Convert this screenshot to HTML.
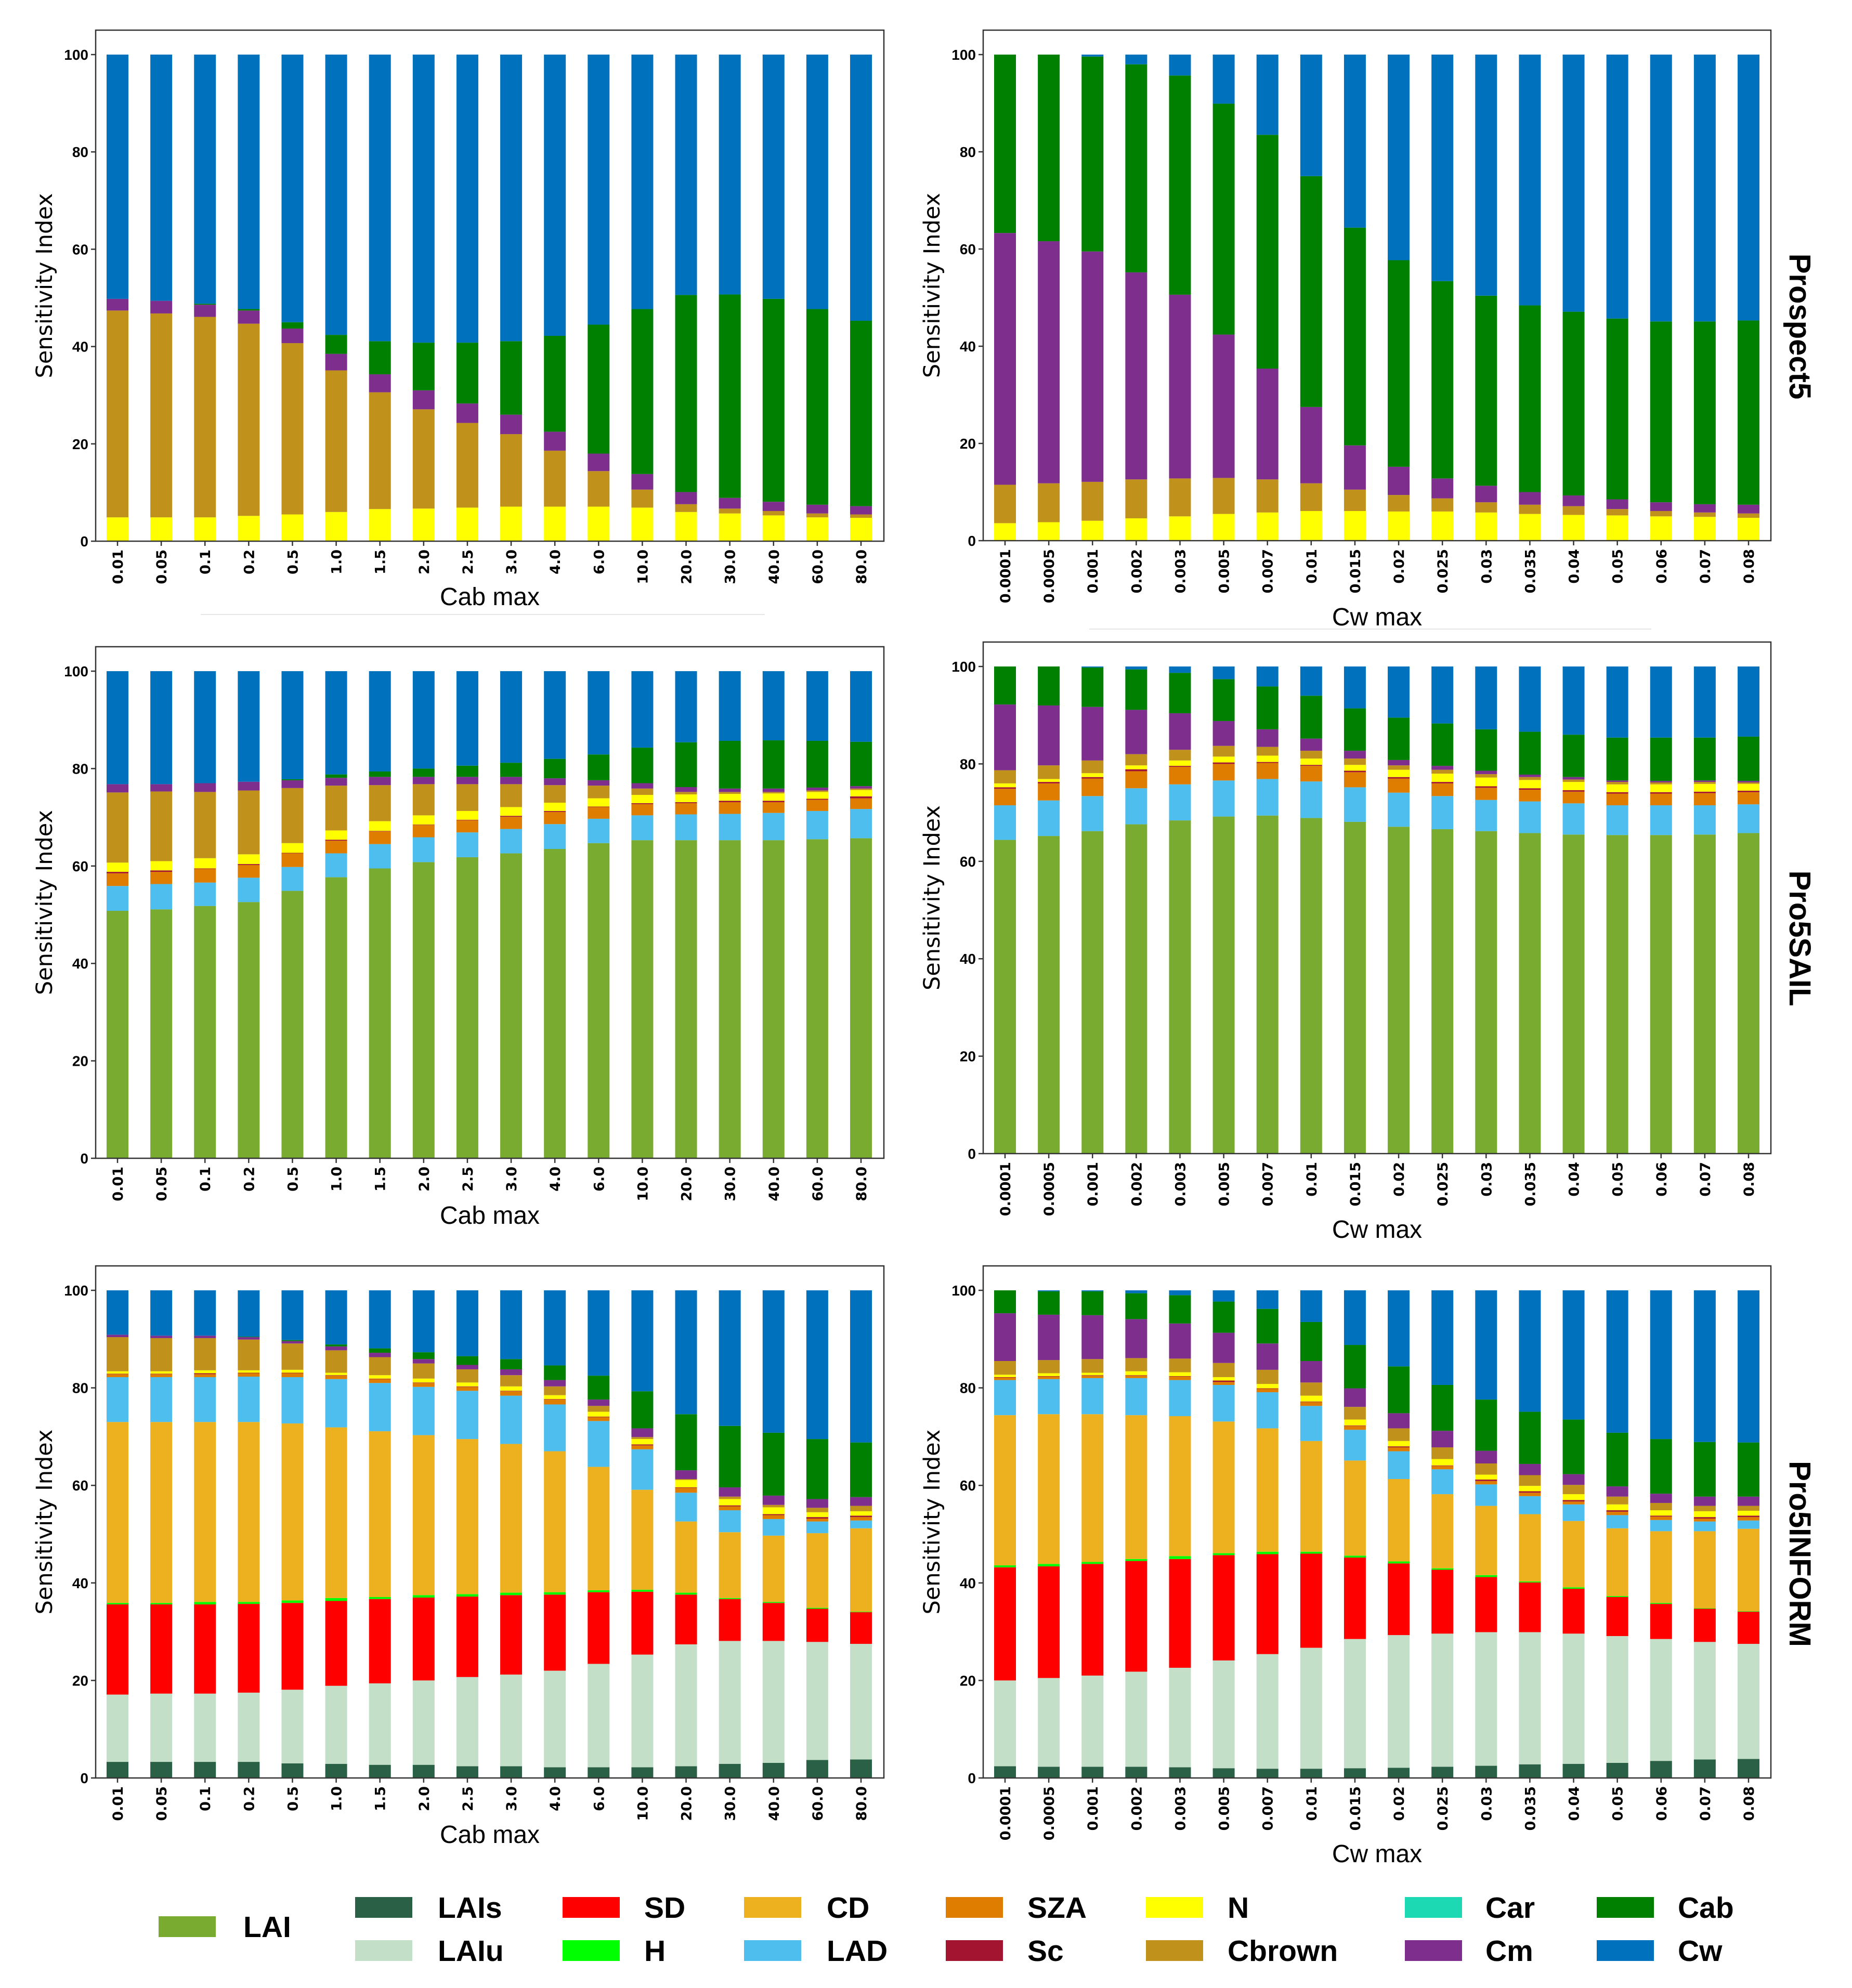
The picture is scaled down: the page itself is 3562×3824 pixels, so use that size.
<!DOCTYPE html>
<html><head><meta charset="utf-8">
<style>
html,body{margin:0;padding:0;background:#fff;}
svg{display:block;}
</style></head>
<body>
<svg id="fig" xmlns="http://www.w3.org/2000/svg" width="3562" height="3824" viewBox="0 0 3562 3824">
<rect x="0" y="0" width="3562" height="3824" fill="#fff"/>
</svg>
<script>
// ---------- categories ----------
const cabCats = ["0.01","0.05","0.1","0.2","0.5","1.0","1.5","2.0","2.5","3.0","4.0","6.0","10.0","20.0","30.0","40.0","60.0","80.0"];
const cwCats = ["0.0001","0.0005","0.001","0.002","0.003","0.005","0.007","0.01","0.015","0.02","0.025","0.03","0.035","0.04","0.05","0.06","0.07","0.08"];
const yTicks = [0,20,40,60,80,100];

// ---------- Prospect5 / Cab (cumulative tops, %) ----------
const p5cab_N      = [4.9,4.9,4.9,5.2,5.5,6.0,6.6,6.7,6.9,7.1,7.1,7.1,6.9,6.0,5.7,5.3,4.9,4.8];
const p5cab_Cbrown = [47.4,46.8,46.1,44.7,40.7,35.1,30.6,27.1,24.3,22.0,18.6,14.4,10.6,7.6,6.7,6.2,5.7,5.5];
const p5cab_Cm     = [49.8,49.4,48.6,47.4,43.7,38.5,34.3,31.0,28.3,26.0,22.5,18.0,13.8,10.1,8.9,8.1,7.5,7.2];
const p5cab_Cab    = [49.8,49.4,48.8,47.7,45.0,42.4,41.1,40.8,40.8,41.1,42.2,44.5,47.7,50.6,50.7,49.8,47.7,45.3];

// ---------- Prospect5 / Cw ----------
const p5cw_N      = [3.6,3.8,4.1,4.6,5.0,5.5,5.8,6.1,6.1,6.0,6.0,5.8,5.5,5.3,5.2,5.0,4.9,4.7];
const p5cw_Cbrown = [11.5,11.8,12.1,12.6,12.8,12.9,12.6,11.8,10.5,9.4,8.7,7.9,7.4,7.1,6.5,6.1,5.8,5.6];
const p5cw_Cm     = [63.3,61.6,59.5,55.2,50.6,42.4,35.4,27.5,19.6,15.2,12.8,11.3,10.0,9.3,8.5,7.9,7.5,7.4];
const p5cw_Cab    = [100,100,99.6,98.0,95.7,89.9,83.5,75.0,64.4,57.7,53.4,50.4,48.4,47.1,45.7,45.1,45.1,45.3];

// ---------- Pro5SAIL / Cab ----------
const sailcab_LAI    = [50.8,51.1,51.8,52.6,54.9,57.7,59.5,60.8,61.8,62.6,63.5,64.7,65.3,65.3,65.3,65.3,65.5,65.7];
const sailcab_LAD    = [55.9,56.3,56.6,57.6,59.8,62.6,64.5,65.9,66.9,67.6,68.6,69.7,70.4,70.6,70.7,70.9,71.3,71.7];
const sailcab_SZA    = [58.5,58.8,59.4,60.2,62.6,65.2,67.1,68.4,69.4,70.1,71.1,72.1,72.7,72.9,73.1,73.1,73.6,73.9];
const sailcab_Sc     = [58.8,59.1,59.5,60.4,62.7,65.4,67.2,68.5,69.5,70.3,71.3,72.2,72.9,73.1,73.4,73.4,73.8,74.3];
const sailcab_N      = [60.7,61.0,61.6,62.4,64.7,67.3,69.2,70.4,71.3,72.1,73.0,73.9,74.6,74.7,74.8,74.9,75.2,75.6];
const sailcab_Cbrown = [75.1,75.3,75.2,75.5,76.0,76.5,76.6,76.8,76.8,76.8,76.6,76.5,75.9,75.2,75.2,75.2,75.5,75.9];
const sailcab_Cm     = [76.8,76.8,77.0,77.3,77.6,78.1,78.3,78.3,78.3,78.3,78.0,77.6,77.0,76.2,75.9,75.9,76.1,76.4];
const sailcab_Cab    = [76.8,76.8,77.0,77.3,77.8,78.8,79.4,80.0,80.6,81.2,82.0,82.9,84.3,85.4,85.7,85.8,85.7,85.5];

// ---------- Pro5SAIL / Cw ----------
const sailcw_LAI    = [64.4,65.2,66.2,67.6,68.4,69.2,69.4,68.9,68.1,67.1,66.6,66.2,65.8,65.5,65.4,65.4,65.5,65.8];
const sailcw_LAD    = [71.5,72.5,73.4,75.0,75.8,76.6,76.9,76.4,75.2,74.1,73.4,72.6,72.3,71.9,71.5,71.5,71.5,71.7];
const sailcw_SZA    = [74.9,76.0,77.0,78.5,79.4,80.0,80.2,79.6,78.3,77.0,76.0,75.1,74.7,74.3,73.9,73.9,74.0,74.2];
const sailcw_Sc     = [75.2,76.3,77.3,78.9,79.6,80.3,80.4,79.8,78.6,77.3,76.3,75.4,75.0,74.6,74.2,74.2,74.3,74.5];
const sailcw_N      = [76.0,76.9,78.1,79.7,80.7,81.5,81.7,81.1,79.8,78.8,78.0,77.2,76.7,76.3,75.8,75.8,75.9,75.9];
const sailcw_Cbrown = [78.7,79.7,80.7,82.0,82.9,83.7,83.5,82.7,81.1,79.7,78.8,77.9,77.3,76.8,76.3,76.2,76.3,76.2];
const sailcw_Cm     = [92.2,92.0,91.7,91.1,90.4,88.8,87.1,85.2,82.7,80.8,79.6,78.6,77.8,77.3,76.6,76.5,76.6,76.5];
const sailcw_Cab    = [100,100,99.8,99.4,98.7,97.4,95.9,94.0,91.4,89.5,88.3,87.1,86.6,86.0,85.4,85.4,85.4,85.6];

// ---------- Pro5INFORM / Cab ----------
const infcab_LAIs   = [3.3,3.3,3.3,3.3,3.0,2.9,2.7,2.7,2.4,2.4,2.2,2.2,2.2,2.4,2.9,3.1,3.7,3.8];
const infcab_LAIu   = [17.1,17.3,17.3,17.5,18.1,18.9,19.4,20.0,20.7,21.2,22.0,23.4,25.3,27.4,28.1,28.1,27.9,27.5];
const infcab_SD     = [35.6,35.6,35.6,35.7,35.9,36.3,36.7,37.0,37.2,37.5,37.6,38.1,38.2,37.6,36.7,35.9,34.7,34.0];
const infcab_H      = [35.9,35.9,36.1,36.1,36.4,36.9,37.1,37.5,37.7,38.0,38.1,38.5,38.6,38.0,36.9,36.1,34.9,34.1];
const infcab_CD     = [73.0,73.0,73.0,73.0,72.7,71.9,71.1,70.3,69.5,68.5,67.0,63.8,59.1,52.6,50.4,49.7,50.2,51.2];
const infcab_LAD    = [82.2,82.2,82.2,82.3,82.2,81.8,81.0,80.2,79.4,78.4,76.6,73.2,67.4,58.5,54.9,53.1,52.6,52.8];
const infcab_SZA    = [82.8,82.8,82.8,83.0,83.0,82.5,81.8,81.0,80.2,79.3,77.6,74.0,68.2,59.5,55.7,53.9,53.2,53.5];
const infcab_Sc     = [82.9,82.9,83.0,83.1,83.1,82.6,81.9,81.1,80.3,79.4,77.7,74.1,68.4,59.6,55.9,54.1,53.5,53.8];
const infcab_N      = [83.4,83.4,83.6,83.6,83.7,83.1,82.6,81.9,81.1,80.3,78.5,75.1,69.5,61.1,57.2,55.5,54.5,54.7];
const infcab_Cbrown = [90.4,90.2,90.2,89.9,89.1,87.7,86.3,85.0,83.8,82.6,80.3,76.3,69.9,61.3,57.7,56.0,55.4,55.8];
const infcab_Cm     = [90.9,90.7,90.7,90.4,89.6,88.5,87.2,85.9,84.7,83.8,81.6,77.6,71.7,63.1,59.6,57.9,57.2,57.6];
const infcab_Cab    = [90.9,90.7,90.7,90.5,89.8,88.9,88.1,87.3,86.5,85.9,84.6,82.5,79.3,74.6,72.2,70.8,69.5,68.8];

// ---------- Pro5INFORM / Cw ----------
const infcw_LAIs   = [2.4,2.3,2.3,2.3,2.2,2.0,1.9,1.9,2.0,2.1,2.3,2.5,2.8,2.9,3.1,3.5,3.8,3.9];
const infcw_LAIu   = [20.0,20.5,21.0,21.8,22.6,24.1,25.4,26.7,28.5,29.3,29.6,29.9,29.9,29.6,29.1,28.5,27.9,27.5];
const infcw_SD     = [43.2,43.4,43.9,44.5,44.9,45.7,45.9,46.0,45.2,44.0,42.7,41.2,40.1,38.8,37.1,35.7,34.7,34.1];
const infcw_H      = [43.6,43.9,44.3,44.9,45.5,46.1,46.4,46.4,45.6,44.4,43.0,41.6,40.3,39.1,37.3,35.9,34.8,34.2];
const infcw_CD     = [74.4,74.6,74.6,74.4,74.2,73.1,71.7,69.1,65.1,61.3,58.2,55.8,54.1,52.7,51.2,50.6,50.6,51.1];
const infcw_LAD    = [81.6,81.8,82.0,82.0,81.6,80.6,79.1,76.3,71.4,67.0,63.3,60.2,57.8,56.1,53.9,52.9,52.6,52.8];
const infcw_SZA    = [82.1,82.3,82.5,82.5,82.3,81.2,79.8,77.1,72.2,67.8,64.0,60.9,58.5,56.7,54.6,53.6,53.2,53.5];
const infcw_Sc     = [82.2,82.4,82.6,82.6,82.4,81.5,79.9,77.2,72.3,68.0,64.1,61.2,58.8,57.0,54.9,53.8,53.5,53.8];
const infcw_N      = [82.7,83.0,83.1,83.4,83.2,82.2,80.8,78.4,73.5,69.1,65.4,62.2,59.9,58.2,56.1,54.9,54.7,54.8];
const infcw_Cbrown = [85.5,85.7,85.9,86.1,86.0,85.1,83.7,81.1,76.1,71.7,67.8,64.5,62.1,60.1,57.7,56.4,55.8,55.8];
const infcw_Cm     = [95.3,95.0,94.9,94.1,93.2,91.3,89.1,85.5,79.9,74.8,71.2,67.1,64.4,62.3,59.8,58.3,57.7,57.7];
const infcw_Cab    = [100,99.8,99.8,99.4,99.0,97.7,96.2,93.5,88.8,84.4,80.6,77.6,75.1,73.5,70.8,69.5,68.9,68.8];

const legendNames = ["LAI","LAIs","SD","CD","SZA","N","Car","Cab","LAIu","H","LAD","Sc","Cbrown","Cm","Cw"];
</script>
<script>
const NS = "http://www.w3.org/2000/svg";
const svg = document.getElementById('fig');
const COL = {LAI:"#78ab30",LAIs:"#2a6045",LAIu:"#c3dfc7",SD:"#ff0000",H:"#00ff00",CD:"#edb120",LAD:"#4dbeee",SZA:"#de7d00",Sc:"#a2142f",N:"#ffff00",Cbrown:"#c0921c",Car:"#1cd9b3",Cm:"#7e2f8e",Cab:"#008000",Cw:"#0072bd"};
function mk(tag, attrs, parent){
  const e = document.createElementNS(NS, tag);
  for (const k in attrs) e.setAttribute(k, attrs[k]);
  (parent||svg).appendChild(e);
  return e;
}
function full100(n){ return new Array(n).fill(100); }

function panel(cfg){
  const g = mk('g', {});
  
  
  const n = cfg.cats.length;
  const step = (cfg.lastX - cfg.firstX)/(n-1);
  const xs = i => cfg.firstX + i*step;
  const ys = v => cfg.y0 - v*(cfg.y0 - cfg.y100)/100;
  const bw = 42;
  for (let i=0;i<n;i++){
    let prev = 0;
    cfg.series.forEach(s=>{
      const top = s.tops[i];
      const a = Math.max(prev, 0), b = Math.max(top, prev);
      if (b - a > 0.001){
        const r = mk('rect', {x: xs(i)-bw/2, y: ys(b), width: bw, height: ys(a)-ys(b), fill: COL[s.key]}, g);
        
        
      }
      prev = b;
    });
  }
  const fr = mk('rect', {x: cfg.fx0, y: cfg.top, width: cfg.fx1-cfg.fx0, height: cfg.y0-cfg.top, fill:'none', stroke:'#333', 'stroke-width':2.5}, g);
  
  
  yTicks.forEach(t=>{
    mk('line', {x1: cfg.fx0-9, x2: cfg.fx0, y1: ys(t), y2: ys(t), stroke:'#333','stroke-width':2.5}, g);
    const tx = mk('text', {x: cfg.fx0-14, y: ys(t)+10, 'text-anchor':'end', 'font-family':'Liberation Sans, sans-serif', 'font-weight':'bold', 'font-size':28, fill:'#000'}, g);
    tx.textContent = t;
    
    
  });
  cfg.cats.forEach((c,i)=>{
    mk('line', {x1: xs(i), x2: xs(i), y1: cfg.y0, y2: cfg.y0+9, stroke:'#333','stroke-width':2.5}, g);
    const tx = mk('text', {x:0, y:0, transform:`translate(${xs(i)+10},${cfg.y0+16}) rotate(-90)`, 'text-anchor':'end', 'font-family':'DejaVu Sans, sans-serif', 'font-weight':'bold', 'font-size':27, fill:'#000'}, g);
    tx.textContent = c;
    
    
  });
  const xt = mk('text', {x:(cfg.fx0+cfg.fx1)/2, y: cfg.xlabY+17, 'text-anchor':'middle', 'font-family':'Liberation Sans, sans-serif', 'font-size':48, fill:'#000'}, g);
  xt.textContent = cfg.xlabel;
  
  
  const yt = mk('text', {x:0, y:0, transform:`translate(${cfg.fx0-84},${(cfg.top+cfg.y0)/2}) rotate(-90)`, 'text-anchor':'middle', 'font-family':'DejaVu Sans, sans-serif', 'font-size':43, fill:'#000'}, g);
  yt.textContent = 'Sensitivity Index';
  
  
}

const L = {fx0:184, fx1:1700, firstX:226, lastX:1656};
const R = {fx0:1891, fx1:3406, firstX:1933, lastX:3363};

panel(Object.assign({name:'prospect5-cab-panel', cats:cabCats, top:58, y100:105, y0:1041, xlabel:'Cab max', xlabY:1147,
  series:[{key:'N',tops:p5cab_N},{key:'Cbrown',tops:p5cab_Cbrown},{key:'Cm',tops:p5cab_Cm},{key:'Cab',tops:p5cab_Cab},{key:'Cw',tops:full100(18)}]}, L));
panel(Object.assign({name:'prospect5-cw-panel', cats:cwCats, top:58, y100:105, y0:1040, xlabel:'Cw max', xlabY:1186,
  series:[{key:'N',tops:p5cw_N},{key:'Cbrown',tops:p5cw_Cbrown},{key:'Cm',tops:p5cw_Cm},{key:'Cab',tops:p5cw_Cab},{key:'Cw',tops:full100(18)}]}, R));
panel(Object.assign({name:'pro5sail-cab-panel', cats:cabCats, top:1244, y100:1291, y0:2228, xlabel:'Cab max', xlabY:2337,
  series:[{key:'LAI',tops:sailcab_LAI},{key:'LAD',tops:sailcab_LAD},{key:'SZA',tops:sailcab_SZA},{key:'Sc',tops:sailcab_Sc},{key:'N',tops:sailcab_N},{key:'Cbrown',tops:sailcab_Cbrown},{key:'Cm',tops:sailcab_Cm},{key:'Cab',tops:sailcab_Cab},{key:'Cw',tops:full100(18)}]}, L));
panel(Object.assign({name:'pro5sail-cw-panel', cats:cwCats, top:1235, y100:1282, y0:2219, xlabel:'Cw max', xlabY:2364,
  series:[{key:'LAI',tops:sailcw_LAI},{key:'LAD',tops:sailcw_LAD},{key:'SZA',tops:sailcw_SZA},{key:'Sc',tops:sailcw_Sc},{key:'N',tops:sailcw_N},{key:'Cbrown',tops:sailcw_Cbrown},{key:'Cm',tops:sailcw_Cm},{key:'Cab',tops:sailcw_Cab},{key:'Cw',tops:full100(18)}]}, R));
panel(Object.assign({name:'pro5inform-cab-panel', cats:cabCats, top:2435, y100:2482, y0:3420, xlabel:'Cab max', xlabY:3528,
  series:[{key:'LAIs',tops:infcab_LAIs},{key:'LAIu',tops:infcab_LAIu},{key:'SD',tops:infcab_SD},{key:'H',tops:infcab_H},{key:'CD',tops:infcab_CD},{key:'LAD',tops:infcab_LAD},{key:'SZA',tops:infcab_SZA},{key:'Sc',tops:infcab_Sc},{key:'N',tops:infcab_N},{key:'Cbrown',tops:infcab_Cbrown},{key:'Cm',tops:infcab_Cm},{key:'Cab',tops:infcab_Cab},{key:'Cw',tops:full100(18)}]}, L));
panel(Object.assign({name:'pro5inform-cw-panel', cats:cwCats, top:2435, y100:2482, y0:3420, xlabel:'Cw max', xlabY:3565,
  series:[{key:'LAIs',tops:infcw_LAIs},{key:'LAIu',tops:infcw_LAIu},{key:'SD',tops:infcw_SD},{key:'H',tops:infcw_H},{key:'CD',tops:infcw_CD},{key:'LAD',tops:infcw_LAD},{key:'SZA',tops:infcw_SZA},{key:'Sc',tops:infcw_Sc},{key:'N',tops:infcw_N},{key:'Cbrown',tops:infcw_Cbrown},{key:'Cm',tops:infcw_Cm},{key:'Cab',tops:infcw_Cab},{key:'Cw',tops:full100(18)}]}, R));

mk('line',{x1:386,x2:1471,y1:1182,y2:1182,stroke:'#e6e6e6','stroke-width':2});
mk('line',{x1:2095,x2:3176,y1:1210,y2:1210,stroke:'#e6e6e6','stroke-width':2});

[['Prospect5',628,'row-title-prospect5'],['Pro5SAIL',1805,'row-title-pro5sail'],['Pro5INFORM',2989,'row-title-pro5inform']].forEach(r=>{
  const t = mk('text',{x:0,y:0,transform:`translate(3442,${r[1]}) rotate(90)`,'text-anchor':'middle','font-family':'Liberation Sans, sans-serif','font-weight':'bold','font-size':58,fill:'#000'});
  t.textContent = r[0];
  
  
});

const legPos = {
  LAI:[305,3686,468], LAIs:[683,3649,842], SD:[1082,3649,1239], CD:[1431,3649,1590], SZA:[1819,3649,1976], N:[2204,3649,2361], Car:[2702,3649,2857], Cab:[3071,3649,3227],
  LAIu:[683,3732,842], H:[1082,3732,1239], LAD:[1431,3732,1590], Sc:[1819,3732,1976], Cbrown:[2204,3732,2361], Cm:[2702,3732,2857], Cw:[3071,3732,3227]
};
const lg = mk('g',{});


legendNames.forEach(k=>{
  const p = legPos[k];
  const sw = mk('rect',{x:p[0],y:p[1],width:110,height:40,fill:COL[k]},lg);
  
  
  const t = mk('text',{x:p[2],y:p[1]+40,'font-family':'Liberation Sans, sans-serif','font-weight':'bold','font-size':57,fill:'#000'},lg);
  t.textContent = k;
  
  
});
</script>
</body></html>
